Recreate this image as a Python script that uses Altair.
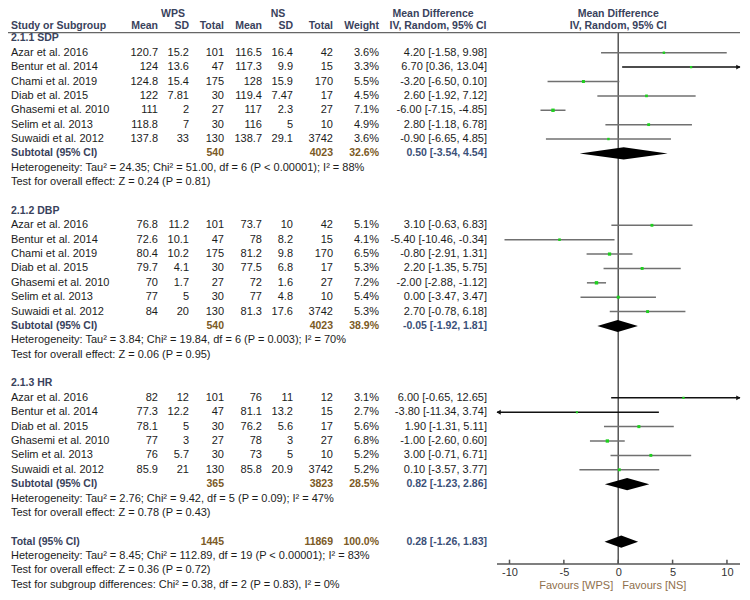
import altair as alt
import pandas as pd

# ---------------- data ----------------
sdp_study = ["Azar et al. 2016", "Bentur et al. 2014", "Chami et al. 2019", "Diab et al. 2015",
             "Ghasemi et al. 2010", "Selim et al. 2013", "Suwaidi et al. 2012"]
sdp_wps_mean = [120.7, 124, 124.8, 122, 111, 118.8, 137.8]
sdp_wps_sd = [15.2, 13.6, 15.4, 7.81, 2, 7, 33]
sdp_wps_n = [101, 47, 175, 30, 27, 30, 130]
sdp_ns_mean = [116.5, 117.3, 128, 119.4, 117, 116, 138.7]
sdp_ns_sd = [16.4, 9.9, 15.9, 7.47, 2.3, 5, 29.1]
sdp_ns_n = [42, 15, 170, 17, 27, 10, 3742]
sdp_weight = [3.6, 3.3, 5.5, 4.5, 7.1, 4.9, 3.6]
sdp_md = [4.20, 6.70, -3.20, 2.60, -6.00, 2.80, -0.90]
sdp_lo = [-1.58, 0.36, -6.50, -1.92, -7.15, -1.18, -6.65]
sdp_hi = [9.98, 13.04, 0.10, 7.12, -4.85, 6.78, 4.85]

dbp_study = ["Azar et al. 2016", "Bentur et al. 2014", "Chami et al. 2019", "Diab et al. 2015",
             "Ghasemi et al. 2010", "Selim et al. 2013", "Suwaidi et al. 2012"]
dbp_wps_mean = [76.8, 72.6, 80.4, 79.7, 70, 77, 84]
dbp_wps_sd = [11.2, 10.1, 10.2, 4.1, 1.7, 5, 20]
dbp_wps_n = [101, 47, 175, 30, 27, 30, 130]
dbp_ns_mean = [73.7, 78, 81.2, 77.5, 72, 77, 81.3]
dbp_ns_sd = [10, 8.2, 9.8, 6.8, 1.6, 4.8, 17.6]
dbp_ns_n = [42, 15, 170, 17, 27, 10, 3742]
dbp_weight = [5.1, 4.1, 6.5, 5.3, 7.2, 5.4, 5.3]
dbp_md = [3.10, -5.40, -0.80, 2.20, -2.00, 0.00, 2.70]
dbp_lo = [-0.63, -10.46, -2.91, -1.35, -2.88, -3.47, -0.78]
dbp_hi = [6.83, -0.34, 1.31, 5.75, -1.12, 3.47, 6.18]

hr_study = ["Azar et al. 2016", "Bentur et al. 2014", "Diab et al. 2015",
            "Ghasemi et al. 2010", "Selim et al. 2013", "Suwaidi et al. 2012"]
hr_wps_mean = [82, 77.3, 78.1, 77, 76, 85.9]
hr_wps_sd = [12, 12.2, 5, 3, 5.7, 21]
hr_wps_n = [101, 47, 30, 27, 30, 130]
hr_ns_mean = [76, 81.1, 76.2, 78, 73, 85.8]
hr_ns_sd = [11, 13.2, 5.6, 3, 5, 20.9]
hr_ns_n = [12, 15, 17, 27, 10, 3742]
hr_weight = [3.1, 2.7, 5.6, 6.8, 5.2, 5.2]
hr_md = [6.00, -3.80, 1.90, -1.00, 3.00, 0.10]
hr_lo = [-0.65, -11.34, -1.31, -2.60, -0.71, -3.57]
hr_hi = [12.65, 3.74, 5.11, 0.60, 6.71, 3.77]

subgroup_labels = ["2.1.1 SDP", "2.1.2 DBP", "2.1.3 HR"]
subtotal_wps_n = [540, 540, 365]
subtotal_ns_n = [4023, 4023, 3823]
subtotal_weight = [32.6, 38.9, 28.5]
subtotal_md = [0.50, -0.05, 0.82]
subtotal_lo = [-3.54, -1.92, -1.23]
subtotal_hi = [4.54, 1.81, 2.86]
subtotal_het = [
    "Heterogeneity: Tau² = 24.35; Chi² = 51.00, df = 6 (P < 0.00001); I² = 88%",
    "Heterogeneity: Tau² = 3.84; Chi² = 19.84, df = 6 (P = 0.003); I² = 70%",
    "Heterogeneity: Tau² = 2.76; Chi² = 9.42, df = 5 (P = 0.09); I² = 47%",
]
subtotal_test = [
    "Test for overall effect: Z = 0.24 (P = 0.81)",
    "Test for overall effect: Z = 0.06 (P = 0.95)",
    "Test for overall effect: Z = 0.78 (P = 0.43)",
]

total_label = "Total (95% CI)"
total_wps_n = 1445
total_ns_n = 11869
total_weight = 100.0
total_md = 0.28
total_lo = -1.26
total_hi = 1.83
total_notes = [
    "Heterogeneity: Tau² = 8.45; Chi² = 112.89, df = 19 (P < 0.00001); I² = 83%",
    "Test for overall effect: Z = 0.36 (P = 0.72)",
    "Test for subgroup differences: Chi² = 0.38, df = 2 (P = 0.83), I² = 0%",
]

axis_ticks = [-10, -5, 0, 5, 10]

# ---------------- layout / style ----------------
FONT = "Liberation Sans"
FS = 11
FSB = 10.5
DATA_C = "#1c1c1c"
HEAD_C = "#39425c"
SUBNUM_C = "#7b5a26"
SUBMD_C = "#3b5078"
FAV_C = "#8f6f4c"
GREEN = "#1fd01f"

W = 734
H = 556
ROW_PX = 14.38
Y_MIN = -1.6 / ROW_PX
Y_MAX = Y_MIN + H / ROW_PX
DMIN, DMAX = -11.15, 11.2          # visible forest-plot range
X0, X1 = 489, 732                  # its pixel span
PPU = (X1 - X0) / (DMAX - DMIN)
XS_MIN = DMIN - X0 / PPU
XS_MAX = DMAX + (W - X1) / PPU
ZERO_PX = X0 + (0 - DMIN) * PPU
AXIS_ROW = Y_MAX
HEAD_LINE = 1.6

yscale = alt.Scale(domain=[Y_MIN, Y_MAX], reverse=True, nice=False, zero=False)
xscale = alt.Scale(domain=[XS_MIN, XS_MAX], nice=False, zero=False)
xaxis = alt.Axis(values=axis_ticks, ticks=False, grid=False, title=None, domain=False,
                 labelFont=FONT, labelFontSize=11, labelColor="#333",
                 labelPadding=2, labelExpr="'' + datum.value")


def fmt(v):
    return f"{v:g}"


groups = [
    (sdp_study, sdp_wps_mean, sdp_wps_sd, sdp_wps_n, sdp_ns_mean, sdp_ns_sd, sdp_ns_n,
     sdp_weight, sdp_md, sdp_lo, sdp_hi),
    (dbp_study, dbp_wps_mean, dbp_wps_sd, dbp_wps_n, dbp_ns_mean, dbp_ns_sd, dbp_ns_n,
     dbp_weight, dbp_md, dbp_lo, dbp_hi),
    (hr_study, hr_wps_mean, hr_wps_sd, hr_wps_n, hr_ns_mean, hr_ns_sd, hr_ns_n,
     hr_weight, hr_md, hr_lo, hr_hi),
]

study_rows, sub_rows, note_rows, head_rows = [], [], [], []
r = 2
for gi, g in enumerate(groups):
    names, wm, wsd, wn, nm, nsd, nn, w, md, lo, hi = g
    head_rows.append({"row": r, "label": subgroup_labels[gi]})
    for i in range(len(names)):
        rr = r + 1 + i
        arrow = "right" if hi[i] > DMAX else ("left" if lo[i] < DMIN else "none")
        study_rows.append({
            "row": rr, "name": names[i],
            "wm": fmt(wm[i]), "wsd": fmt(wsd[i]), "wn": str(wn[i]),
            "nm": fmt(nm[i]), "nsd": fmt(nsd[i]), "nn": str(nn[i]),
            "wt": f"{w[i]:.1f}%", "mdt": f"{md[i]:.2f} [{lo[i]:.2f}, {hi[i]:.2f}]",
            "md": md[i], "w": w[i],
            "lo_c": max(lo[i], DMIN), "hi_c": min(hi[i], DMAX),
            "arrow": arrow,
            "ax": DMAX - 0.15 if arrow == "right" else DMIN + 0.15,
        })
    rs = r + len(names) + 1
    sub_rows.append({"row": rs, "label": "Subtotal (95% CI)",
                     "wn": str(subtotal_wps_n[gi]), "nn": str(subtotal_ns_n[gi]),
                     "wt": f"{subtotal_weight[gi]:.1f}%",
                     "mdt": f"{subtotal_md[gi]:.2f} [{subtotal_lo[gi]:.2f}, {subtotal_hi[gi]:.2f}]",
                     "md": subtotal_md[gi], "lo": subtotal_lo[gi], "hi": subtotal_hi[gi]})
    note_rows.append({"row": rs + 1, "label": subtotal_het[gi]})
    note_rows.append({"row": rs + 2, "label": subtotal_test[gi]})
    r = rs + 4

sub_rows.append({"row": r, "label": total_label, "wn": str(total_wps_n), "nn": str(total_ns_n),
                 "wt": f"{total_weight:.1f}%",
                 "mdt": f"{total_md:.2f} [{total_lo:.2f}, {total_hi:.2f}]",
                 "md": total_md, "lo": total_lo, "hi": total_hi})
for k, t in enumerate(total_notes):
    note_rows.append({"row": r + 1 + k, "label": t})

studies = pd.DataFrame(study_rows)
subs = pd.DataFrame(sub_rows)
notes = pd.DataFrame(note_rows)
heads = pd.DataFrame(head_rows)

HALF = 0.42
dia_rows = []
for k, s in subs.iterrows():
    dia_rows += [
        {"grp": int(k), "x": float(s["lo"]), "y": float(s["row"]), "y2": float(s["row"])},
        {"grp": int(k), "x": float(s["md"]), "y": float(s["row"]) - HALF, "y2": float(s["row"]) + HALF},
        {"grp": int(k), "x": float(s["hi"]), "y": float(s["row"]), "y2": float(s["row"])},
    ]
diam = pd.DataFrame(dia_rows)
arrows = studies[studies["arrow"] != "none"].reset_index(drop=True)
ticks = pd.DataFrame({"v": axis_ticks, "y": [AXIS_ROW - 0.3] * len(axis_ticks),
                      "y2": [AXIS_ROW] * len(axis_ticks)})
zero = pd.DataFrame({"x": [0.0], "y": [HEAD_LINE], "y2": [AXIS_ROW]})
axis_line = pd.DataFrame({"x": [DMIN], "x2": [DMAX], "row": [AXIS_ROW]})
head_line = pd.DataFrame({"row": [HEAD_LINE]})

Yrow = alt.Y("row:Q", scale=yscale, axis=None, title=None)


def col(df, field, x, align="right", weight="normal", color=DATA_C, size=FS):
    return alt.Chart(df).mark_text(
        align=align, baseline="middle", font=FONT, fontSize=size,
        fontWeight=weight, color=color
    ).encode(x=alt.value(x), y=Yrow, text=f"{field}:N")


def label(text, x, row, align="right", weight="bold", color=HEAD_C, size=FSB):
    df = pd.DataFrame({"row": [row], "t": [text]})
    return col(df, "t", x, align=align, weight=weight, color=color, size=size)


layers = []

# forest plot part
layers.append(alt.Chart(zero).mark_rule(color="#555", strokeWidth=1.5).encode(
    x=alt.X("x:Q", scale=xscale, axis=xaxis),
    y=alt.Y("y:Q", scale=yscale, axis=None, title=None), y2="y2:Q"))
layers.append(alt.Chart(axis_line).mark_rule(color="#555", strokeWidth=1.5).encode(
    x=alt.X("x:Q", scale=xscale, axis=xaxis), x2="x2:Q", y=Yrow))
layers.append(alt.Chart(ticks).mark_rule(color="#555", strokeWidth=1.5).encode(
    x=alt.X("v:Q", scale=xscale, axis=xaxis),
    y=alt.Y("y:Q", scale=yscale, axis=None, title=None), y2="y2:Q"))
layers.append(alt.Chart(studies).mark_rule(strokeWidth=1.5).encode(
    x=alt.X("lo_c:Q", scale=xscale, axis=xaxis), x2="hi_c:Q", y=Yrow,
    color=alt.Color("arrow:N", scale=alt.Scale(domain=["none", "left", "right"],
                                                range=["#707070", "#111111", "#111111"]),
                    legend=None)))
layers.append(alt.Chart(arrows).mark_point(filled=True, opacity=1, color="#111", size=24).encode(
    x=alt.X("ax:Q", scale=xscale, axis=xaxis), y=Yrow,
    shape=alt.Shape("arrow:N", scale=alt.Scale(domain=["left", "right"],
                                                range=["triangle-left", "triangle-right"]),
                    legend=None)))
layers.append(alt.Chart(studies).mark_square(filled=True, opacity=1, color=GREEN).encode(
    x=alt.X("md:Q", scale=xscale, axis=xaxis), y=Yrow,
    size=alt.Size("w:Q", scale=alt.Scale(domain=[0, 8], range=[0, 13]), legend=None)))
layers.append(alt.Chart(diam).mark_area(orient="vertical", color="#000", opacity=1).encode(
    x=alt.X("x:Q", scale=xscale, axis=xaxis),
    y=alt.Y("y:Q", scale=yscale, axis=None, title=None), y2="y2:Q", detail="grp:N"))

# header line
layers.append(alt.Chart(head_line).mark_rule(color="#666", strokeWidth=1.3).encode(
    x=alt.value(0), x2=alt.value(X1), y=Yrow))

# headers
R0, R1 = 0.34, 1.17
layers += [
    label("WPS", 165, R0, align="center"),
    label("NS", 270, R0, align="center"),
    label("Mean Difference", 425, R0, align="center"),
    label("Mean Difference", ZERO_PX, R0, align="center"),
    label("Study or Subgroup", 3, R1, align="left"),
    label("Mean", 150, R1), label("SD", 181, R1), label("Total", 216, R1),
    label("Mean", 254, R1), label("SD", 285, R1), label("Total", 325, R1),
    label("Weight", 371, R1),
    label("IV, Random, 95% CI", 430, R1, align="center"),
    label("IV, Random, 95% CI", ZERO_PX, R1, align="center"),
]

# study table
layers += [
    col(heads, "label", 3, align="left", weight="bold", color=HEAD_C, size=FSB),
    col(studies, "name", 3, align="left"),
    col(studies, "wm", 150), col(studies, "wsd", 181), col(studies, "wn", 216),
    col(studies, "nm", 254), col(studies, "nsd", 285), col(studies, "nn", 325),
    col(studies, "wt", 371), col(studies, "mdt", 479),
    col(subs, "label", 3, align="left", weight="bold", color=HEAD_C, size=FSB),
    col(subs, "wn", 216, weight="bold", color=SUBNUM_C, size=FSB),
    col(subs, "nn", 325, weight="bold", color=SUBNUM_C, size=FSB),
    col(subs, "wt", 371, weight="bold", color=SUBNUM_C, size=FSB),
    col(subs, "mdt", 479, weight="bold", color=SUBMD_C, size=FSB),
    col(notes, "label", 3, align="left"),
]

# favours labels
layers += [
    label("Favours [WPS]", ZERO_PX - 5, 40.08, align="right", weight="normal", color=FAV_C, size=FS),
    label("Favours [NS]", ZERO_PX + 4, 40.08, align="left", weight="normal", color=FAV_C, size=FS),
]

chart = alt.layer(*layers).properties(
    width=W, height=H,
    autosize=alt.AutoSizeParams(type="none"),
    padding={"left": 0, "top": 0, "right": 0, "bottom": 28},
).configure_view(stroke=None)

chart.save("out.html", embed_options={"renderer": "svg", "actions": False})
